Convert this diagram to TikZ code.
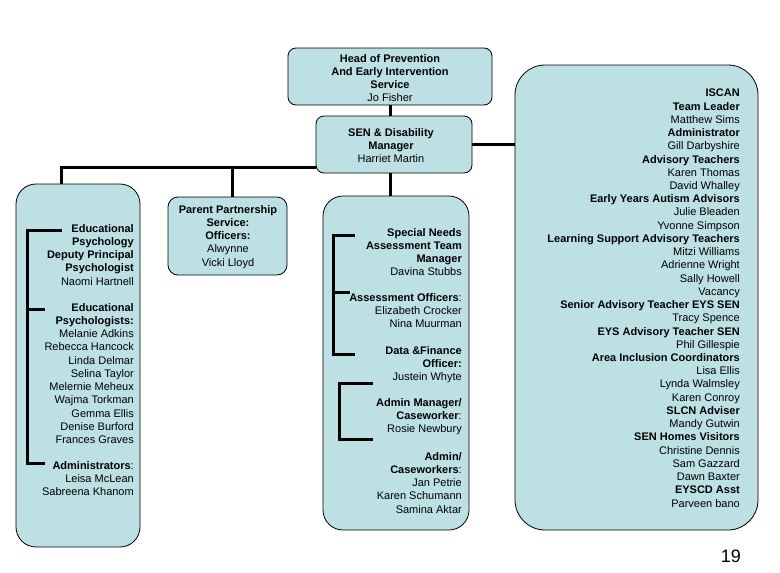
\documentclass[tikz,border=0pt]{standalone}
\usepackage{fontspec}
\setmainfont{Liberation Sans}
\usetikzlibrary{positioning}
\definecolor{boxfill}{RGB}{188,224,228}

\begin{document}
\begin{tikzpicture}[x=1pt,y=-1pt]
\tikzstyle{every node}+=[inner sep=0pt]
\tikzstyle{box}=[draw=black,line width=0.8pt,fill=boxfill,rounded corners=8pt]
\tikzstyle{link}=[line width=3pt,black]
\tikzstyle{txt}=[font=\fontsize{11}{13.23}\selectfont,align=right,anchor=north east]
\tikzstyle{ctxt}=[font=\fontsize{11}{13.23}\selectfont,align=center,anchor=north]
\useasboundingbox (0,0) rectangle (780,573);
\node [box,minimum width=204pt,minimum height=57pt] (head) at (390,76.5) {};
\node [box,minimum width=156pt,minimum height=57pt] (sen) at (394,144.5) {};
\node [box,rounded corners=20pt,minimum width=124pt,minimum height=363pt] (edpsych) at (78,365.5) {};
\node [box,rounded corners=10pt,minimum width=119pt,minimum height=78pt] (pps) at (227.5,236) {};
\node [box,rounded corners=20pt,minimum width=146pt,minimum height=334pt] (sena) at (396,363) {};
\node [box,rounded corners=30pt,minimum width=243pt,minimum height=465pt] (iscan) at (636.5,297.5) {};
\draw [link] (head.south -| 390,0) -- (sen.north -| 390,0);
\draw [link] (sen.south -| 390,0) -- (sena.north -| 390,0);
\draw [link] (sen.east) -- (iscan.west |- sen.east);
\draw [link] ([yshift=-22.5pt]sen.west) -| (edpsych.north -| 61,0);
\draw [link] (pps.north -| 232,0) -- (232,167);
\draw [link] (62,230) -- (27,230) -- (27,463) -- (45,463);
\draw [link] (27,309) -- (45,309);
\draw [link] (355,235) -- (333,235) -- (333,354) -- (355,354);
\draw [link] (333,292) -- (350,292);
\draw [link] (373,383) -- (339,383) -- (339,439) -- (373,439);
\node [ctxt] (headtxt) at (390,54) {\textbf{Head of Prevention}\\\textbf{And Early Intervention}\\\textbf{Service}\\Jo Fisher};
\node [ctxt] (sentxt) at (391,128) {\textbf{SEN \& Disability}\\\textbf{Manager}\\Harriet Martin};
\node [ctxt] (ppstxt) at (228,205) {\textbf{Parent Partnership}\\\textbf{Service:}\\\textbf{Officers:}\\Alwynne\\Vicki Lloyd};
\node [txt] (deputy) at (134,224) {\textbf{Educational}\\\textbf{Psychology}\\\textbf{Deputy Principal}\\\textbf{Psychologist}\\Naomi Hartnell};
\node [txt] (edpsys) at (134,303) {\textbf{Educational}\\\textbf{Psychologists:}\\Melanie Adkins\\Rebecca Hancock\\Linda Delmar\\Selina Taylor\\Melernie Meheux\\Wajma Torkman\\Gemma Ellis\\Denise Burford\\Frances Graves};
\node [txt] (edadmin) at (134,461) {\textbf{Administrators}:\\Leisa McLean\\Sabreena Khanom};
\node [txt] (snatm) at (462,228) {\textbf{Special Needs}\\\textbf{Assessment Team}\\\textbf{Manager}\\Davina Stubbs};
\node [txt] (assoff) at (462,293) {\textbf{Assessment Officers}:\\Elizabeth Crocker\\Nina Muurman};
\node [txt] (datafin) at (462,346) {\textbf{Data \&Finance}\\\textbf{Officer:}\\Justein Whyte};
\node [txt] (adminmgr) at (462,398) {\textbf{Admin Manager/}\\\textbf{Caseworker}:\\Rosie Newbury};
\node [txt] (admincw) at (462,452) {\textbf{Admin/}\\\textbf{Caseworkers}:\\Jan Petrie\\Karen Schumann\\Samina Aktar};
\node [txt] (iscantxt) at (740,89) {\textbf{ISCAN}\\\textbf{Team Leader}\\Matthew Sims\\\textbf{Administrator}\\Gill Darbyshire\\\textbf{Advisory Teachers}\\Karen Thomas\\David Whalley\\\textbf{Early Years Autism Advisors}\\Julie Bleaden\\Yvonne Simpson\\\textbf{Learning Support Advisory Teachers}\\Mitzi Williams\\Adrienne Wright\\Sally Howell\\Vacancy\\\textbf{Senior Advisory Teacher EYS SEN}\\Tracy Spence\\\textbf{EYS Advisory Teacher SEN}\\Phil Gillespie\\\textbf{Area Inclusion Coordinators}\\Lisa Ellis\\Lynda Walmsley\\Karen Conroy\\\textbf{SLCN Adviser}\\Mandy Gutwin\\\textbf{SEN Homes Visitors}\\Christine Dennis\\Sam Gazzard\\Dawn Baxter\\\textbf{EYSCD Asst}\\Parveen bano};
\node [anchor=east,font=\fontsize{18}{20}\selectfont] (pagenum) at (741,556) {19};
\end{tikzpicture}
\end{document}
